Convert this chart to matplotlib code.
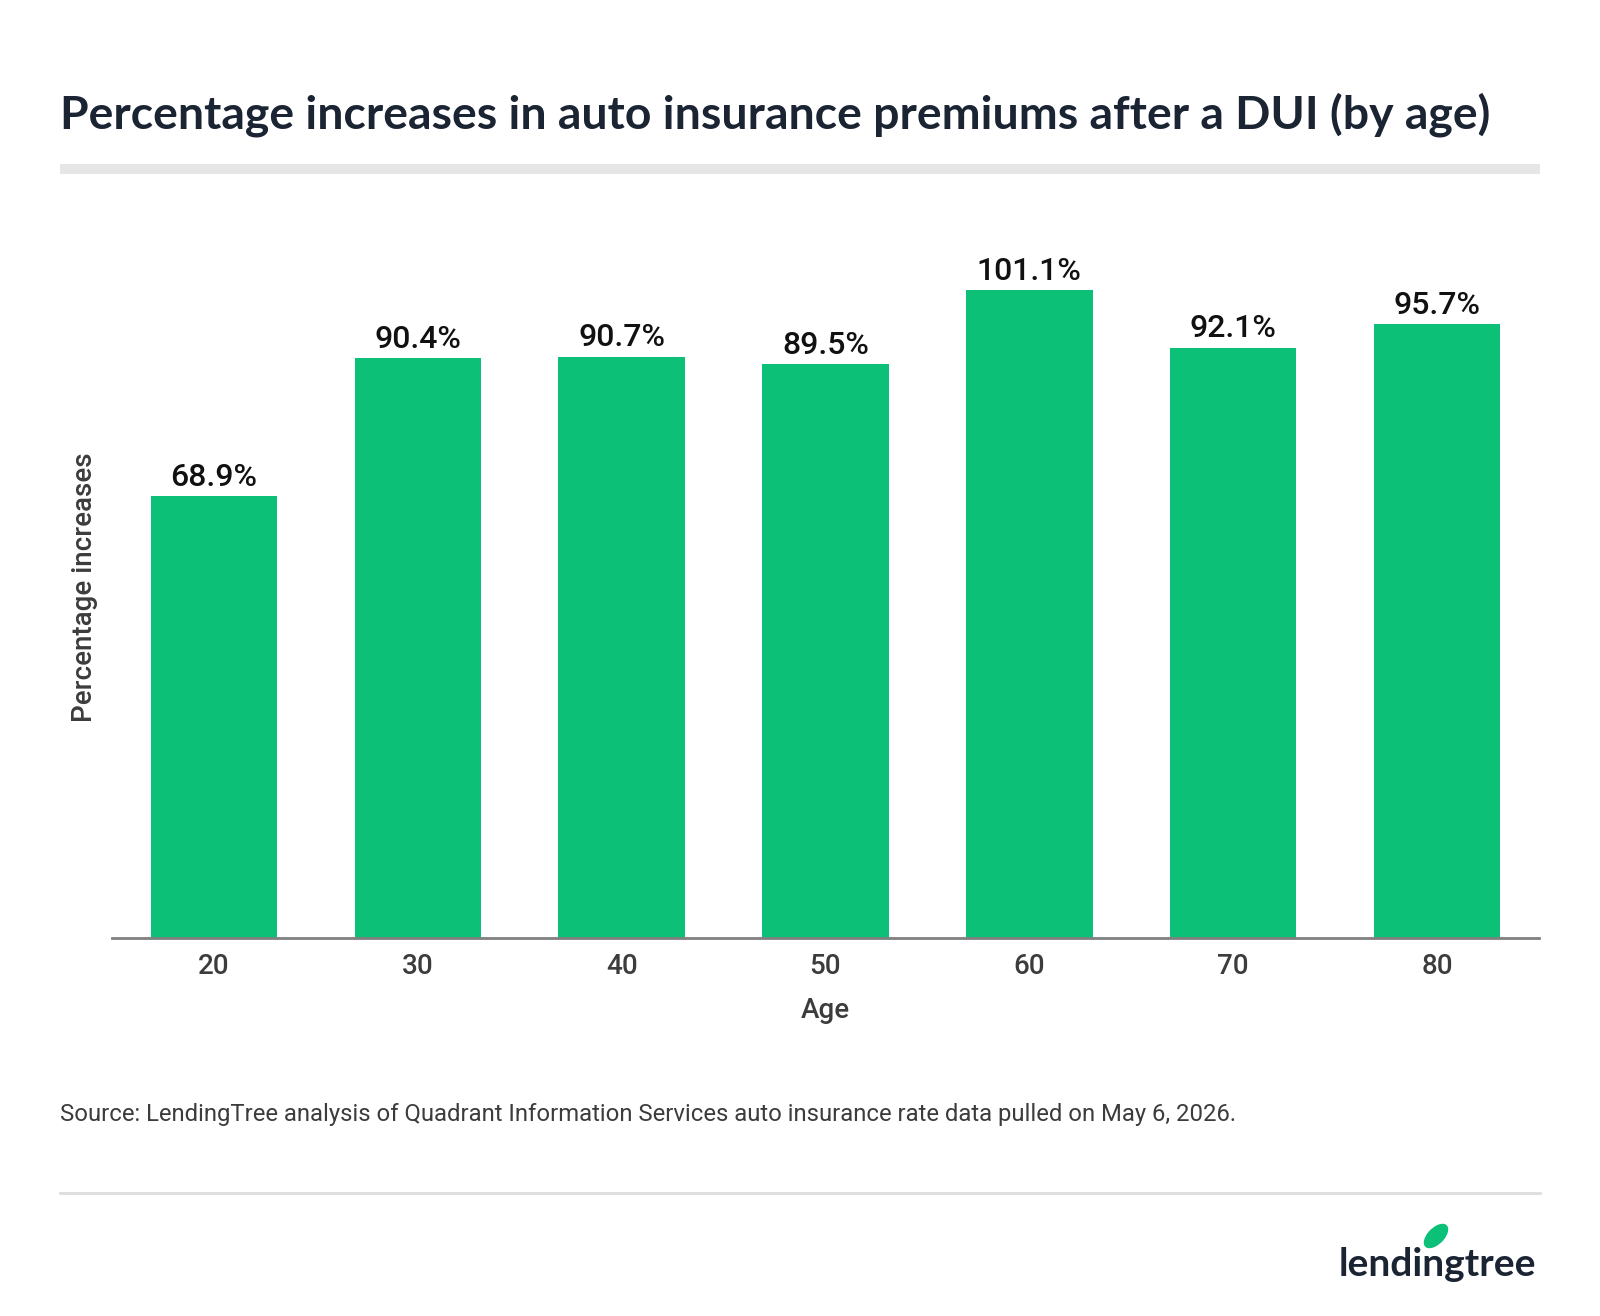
import matplotlib.pyplot as plt
import matplotlib.patches as mpatches
import numpy as np

# dados
ages = ["20", "30", "40", "50", "60", "70", "80"]
increases = [68.9, 90.4, 90.7, 89.5, 101.1, 92.1, 95.7]

green = '#0CC078'
navy = '#1B2433'
grey_txt = '#3C3C3C'

W, H = 1600, 1316
fig = plt.figure(figsize=(16, 13.16), dpi=100)

# titulo
fig.text(60/W, 1 - 115/H, "Percentage increases in auto insurance premiums after a DUI (by age)",
         fontfamily='Lato', fontweight='bold', fontsize=33.4, color=navy, va='center', ha='left')
fig.add_artist(mpatches.Rectangle((60/W, 1 - 174/H), 1480/W, 10/H, transform=fig.transFigure,
                                  color='#E6E6E6', lw=0))

# grafico
ax = fig.add_axes([112/W, 378/H, 1427/W, 718/H])
x = np.arange(len(ages))
bars = ax.bar(x, increases, width=0.62, color=green)
ax.set_xlim(-0.5, len(ages) - 0.5)
ax.set_ylim(0, 112)

for b, v in zip(bars, increases):
    ax.annotate(f"{v}%", (b.get_x() + b.get_width()/2, v), xytext=(0, 3), textcoords='offset points',
                ha='center', va='bottom', fontfamily='Roboto', fontweight='medium', fontsize=23, color='#111111')

for s in ['top', 'right', 'left']:
    ax.spines[s].set_visible(False)
ax.spines['bottom'].set_color('#808080')
ax.spines['bottom'].set_linewidth(2)
ax.set_yticks([])
ax.set_xticks(x)
ax.set_xticklabels(ages, fontfamily='Roboto', fontweight='medium', fontsize=20, color=grey_txt)
ax.tick_params(axis='x', length=0, pad=11)
ax.set_xlabel("Age", fontfamily='Roboto', fontweight='medium', fontsize=20, color=grey_txt, labelpad=12)

fig.text(85/W, 1 - 587/H, "Percentage increases", rotation=90, fontfamily='Roboto', fontweight='medium',
         fontsize=20, color=grey_txt, ha='center', va='center')

# fonte
fig.text(60/W, 1 - 1114/H, "Source: LendingTree analysis of Quadrant Information Services auto insurance rate data pulled on May 6, 2026.",
         fontfamily='Roboto', fontsize=17.2, color=grey_txt, ha='left', va='center')
fig.add_artist(plt.Line2D([60/W, 1540/W], [1 - 1193/H, 1 - 1193/H], transform=fig.transFigure,
                          color='#DDDDDD', lw=2))

# logo
fig.text(1536/W, 1 - 1276/H, "lendingtree", fontfamily='Lato', fontweight='bold', fontsize=28,
         color=navy, ha='right', va='baseline')
leaf = mpatches.Ellipse((1436/W, 1 - 1236/H), 18/W, 28/H, angle=-35, transform=fig.transFigure,
                        color=green, lw=0)
fig.add_artist(leaf)

fig.savefig("out.png", dpi=100)
